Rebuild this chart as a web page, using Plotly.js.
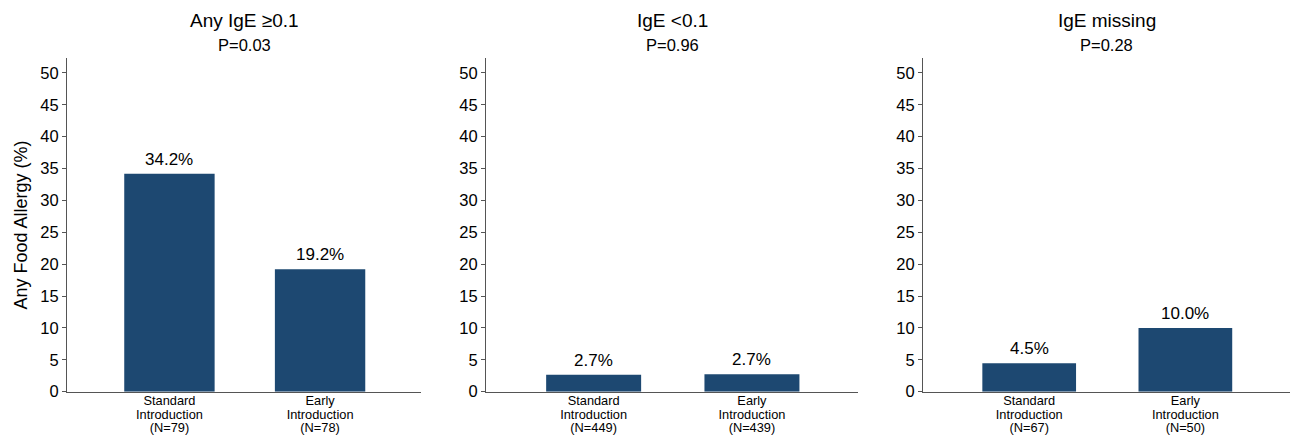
<!DOCTYPE html>
<html>
<head>
<meta charset="utf-8">
<script src="https://cdn.plot.ly/plotly-3.0.1.min.js"></script>
<style>html,body{margin:0;padding:0;background:#fff;}#chart{width:1296px;height:438px;}</style>
</head>
<body>
<div id="chart"></div>
<script>
// ---- data ----
const panelTitles = ["Any IgE \u22650.1", "IgE <0.1", "IgE missing"];
const pValues = ["P=0.03", "P=0.96", "P=0.28"];
const groups = ["Standard<br>Introduction", "Early<br>Introduction"];
const nStandard = ["(N=79)", "(N=449)", "(N=67)"];
const nEarly = ["(N=78)", "(N=439)", "(N=50)"];
const allergyIgePos = [34.2, 19.2];
const allergyIgeNeg = [2.67, 2.73];
const allergyIgeMissing = [4.48, 10.0];
const barLabelsIgePos = ["34.2%", "19.2%"];
const barLabelsIgeNeg = ["2.7%", "2.7%"];
const barLabelsIgeMissing = ["4.5%", "10.0%"];
const yTicks = [0, 5, 10, 15, 20, 25, 30, 35, 40, 45, 50];

// ---- build ----
const W = 1296, H = 438;
const FONT = "Liberation Sans, Arial, Helvetica, sans-serif";
const barColor = "#1d4871";
const series = [allergyIgePos, allergyIgeNeg, allergyIgeMissing];
const labels = [barLabelsIgePos, barLabelsIgeNeg, barLabelsIgeMissing];
const xDomPx = [[67, 421], [486, 858], [923, 1290]];
const yDom = [(H - 391.7) / H, (H - 58.3) / H];

function tickText(i) {
  const sp = s => '<span style="font-size:12.8px">' + s + '</span>';
  return [
    sp("Standard") + "<br>" + sp("Introduction") + "<br>" + sp(nStandard[i]),
    sp("Early") + "<br>" + sp("Introduction") + "<br>" + sp(nEarly[i])
  ];
}

const data = [];
const layout = {
  width: W, height: H,
  margin: {l: 0, r: 0, t: 0, b: 0},
  paper_bgcolor: "#fff", plot_bgcolor: "#fff",
  showlegend: false,
  font: {family: FONT, color: "#000"},
  annotations: []
};

for (let i = 0; i < 3; i++) {
  const xa = i === 0 ? "x" : "x" + (i + 1);
  const ya = i === 0 ? "y" : "y" + (i + 1);
  data.push({
    type: "bar",
    x: groups,
    y: series[i],
    xaxis: xa, yaxis: ya,
    marker: {color: barColor, line: {width: 0}},
    width: 0.6,
    hoverinfo: "none"
  });
  for (let j = 0; j < groups.length; j++) {
    layout.annotations.push({
      xref: xa, yref: ya, x: groups[j], y: series[i][j],
      xanchor: "center", yanchor: "bottom", yshift: 3, showarrow: false,
      text: labels[i][j], font: {size: 17, color: "#000", family: FONT}
    });
  }
  const xk = i === 0 ? "xaxis" : "xaxis" + (i + 1);
  const yk = i === 0 ? "yaxis" : "yaxis" + (i + 1);
  layout[xk] = {
    domain: [xDomPx[i][0] / W, xDomPx[i][1] / W],
    anchor: ya,
    type: "category",
    range: [-0.68, 1.67],
    tickmode: "array",
    tickvals: groups,
    ticktext: tickText(i),
    tickfont: {size: 10.4, color: "#000", family: FONT},
    ticks: "",
    showline: true, linecolor: "#555", linewidth: 1,
    showgrid: false, zeroline: false, fixedrange: true
  };
  layout[yk] = {
    domain: yDom,
    anchor: xa,
    range: [0, 52.3],
    tickmode: "array",
    tickvals: yTicks,
    ticks: "outside", ticklen: 4, tickcolor: "#555", tickwidth: 1,
    tickfont: {size: 16.5, color: "#000", family: FONT},
    showline: true, linecolor: "#555", linewidth: 1,
    showgrid: false, zeroline: false, fixedrange: true
  };
  if (i === 0) {
    layout[yk].title = {text: "Any Food Allergy (%)", font: {size: 18, color: "#000", family: FONT}, standoff: 8};
  }
  const cx = (xDomPx[i][0] + xDomPx[i][1]) / 2 / W;
  layout.annotations.push({
    xref: "paper", yref: "paper", x: cx, y: 1 - 21 / H,
    xanchor: "center", yanchor: "middle", showarrow: false,
    text: panelTitles[i], font: {size: 19, color: "#000", family: FONT}
  });
  layout.annotations.push({
    xref: "paper", yref: "paper", x: cx, y: 1 - 45 / H,
    xanchor: "center", yanchor: "middle", showarrow: false,
    text: pValues[i], font: {size: 16.5, color: "#000", family: FONT}
  });
}

Plotly.newPlot("chart", data, layout, {displayModeBar: false, staticPlot: true});
</script>
</body>
</html>
